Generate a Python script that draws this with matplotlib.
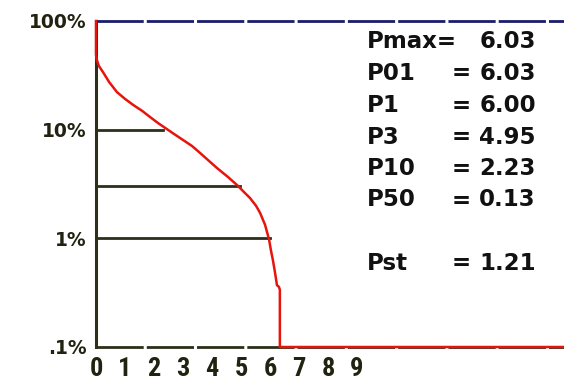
import matplotlib
matplotlib.use("Agg")
import matplotlib.pyplot as plt

# flicker severity distribution curve (x = Pinst level, y = % of time exceeded)
curve_x = [0.0, 0.0, 0.03, 0.10, 0.24, 0.45, 0.72, 1.0, 1.28, 1.59, 1.86, 2.14, 2.38, 2.69, 3.0, 3.31,
           3.59, 3.86, 4.17, 4.55, 4.9, 5.1, 5.31, 5.52, 5.66, 5.83, 5.97, 6.03, 6.1, 6.17, 6.24,
           6.31, 6.34, 6.34, 16.2]
curve_y = [100, 48.7, 43.8, 38.5, 33.9, 27.5, 22.2, 19.2, 16.9, 14.9, 13.1, 11.5, 10.4, 9.13, 8.04, 7.08,
           6.10, 5.26, 4.44, 3.67, 3.03, 2.67, 2.35, 1.99, 1.71, 1.33, 0.97, 0.78, 0.63, 0.49, 0.37,
           0.357, 0.335, 0.1, 0.1]

# percentile markers drawn as horizontal lines
mark_pct = [10, 3, 1]
mark_val = [2.3, 4.95, 6.00]

# result table on the right
stat_names = ["Pmax=", "P01", "P1", "P3", "P10", "P50", "Pst"]
stat_eq = ["", "=", "=", "=", "=", "=", "="]
stat_vals = ["6.03", "6.03", "6.00", "4.95", "2.23", "0.13", "1.21"]

y_ticks = [100, 10, 1, 0.1]
y_labels = ["100%", "10%", "1%", ".1%"]
x_ticks = [0, 1, 2, 3, 4, 5, 6, 7, 8, 9]

plt.rcParams['lines.scale_dashes'] = False
W, H = 564, 380
fig = plt.figure(figsize=(W / 100, H / 100), dpi=100)
ax = fig.add_axes([96 / W, 33 / H, 1 - 96 / W, 326 / H])
ax.set_yscale("log")
ax.set_xlim(0, (W - 96) / 29)
ax.set_ylim(0.1, 100)
for s in ax.spines.values():
    s.set_visible(False)

axis_col = "#2e2e1c"
dash = (0, (34, 2.2))
# top (blue) and bottom axis lines, dashed like the original
ax.axhline(100, color="#1c1c6e", lw=2, ls=dash, clip_on=False, zorder=2)
ax.axhline(0.1, color=axis_col, lw=2, ls=dash, clip_on=False, zorder=2)
ax.axvline(0, color=axis_col, lw=2.2, clip_on=False, zorder=2)

for p, v in zip(mark_pct, mark_val):
    ax.plot([0, v], [p, p], color=axis_col, lw=2, zorder=3)

ax.plot(curve_x, curve_y, color="#e8140c", lw=1.8, clip_on=False, zorder=4)

ax.set_yticks(y_ticks)
ax.set_yticklabels(y_labels)
ax.minorticks_off()
ax.set_xticks(x_ticks)
ax.set_xticklabels([str(t) for t in x_ticks])
ax.tick_params(axis="y", length=0, pad=7, labelsize=13.5, labelcolor="#222211")
ax.tick_params(axis="x", length=0, pad=7, labelsize=19, labelcolor="#222211")
for lab in ax.get_yticklabels():
    lab.set_fontweight("bold")
for lab in ax.get_xticklabels():
    lab.set_fontweight("bold")
    lab.set_family(["Roboto Condensed", "DejaVu Sans"])

# text block
rows_y = [42, 73, 105, 137, 168, 200, 263]
for name, eq, val, yy in zip(stat_names, stat_eq, stat_vals, rows_y):
    fy = 1 - yy / H
    fig.text(367 / W, fy, name, ha="left", va="center", fontsize=16.5, fontweight="bold", color="#111111")
    if eq:
        fig.text(452 / W, fy, eq, ha="left", va="center", fontsize=16.5, fontweight="bold", color="#111111")
    fig.text(536 / W, fy, val, ha="right", va="center", fontsize=16.5, fontweight="bold", color="#111111")

fig.savefig("out.png", dpi=100)
